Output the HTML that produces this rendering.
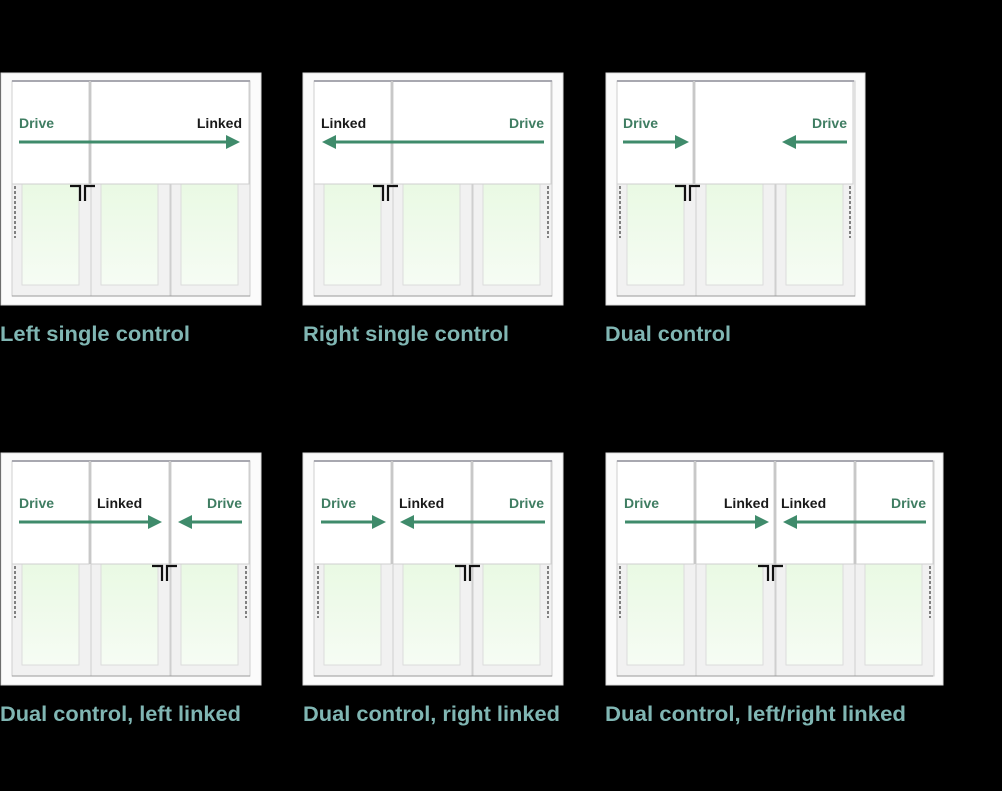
<!DOCTYPE html>
<html><head><meta charset="utf-8"><style>
html,body{margin:0;padding:0;background:#000;}
svg{display:block;}
.t{font-family:"Liberation Sans",sans-serif;font-weight:bold;font-size:14px;}
.g{fill:#3f7d62;}
.k{fill:#1a1a1a;}
.lab{font-family:"Liberation Sans",sans-serif;font-weight:bold;font-size:21px;fill:#80b6b3;}
</style></head><body>
<svg width="1002" height="791" viewBox="0 0 1002 791" xmlns="http://www.w3.org/2000/svg">
<defs>
<linearGradient id="gl" x1="0" y1="0" x2="0" y2="1"><stop offset="0" stop-color="#e9f9e3"/><stop offset="1" stop-color="#f6fcf4"/></linearGradient>
<g id="door">
<rect x="0" y="0" width="79" height="215" fill="#f1f1f1" stroke="#cfcfcf" stroke-width="1"/>
<rect x="10" y="100" width="57" height="104" fill="url(#gl)" stroke="#dcdcdc" stroke-width="1"/>
</g>
<g id="handles">
<path d="M0 2 H10 V17" fill="none" stroke="#111" stroke-width="2.2"/>
<path d="M25 2 H15 V17" fill="none" stroke="#111" stroke-width="2.2"/>
</g>
<line id="cord" x1="0" y1="0" x2="0" y2="52" stroke="#444" stroke-width="1.3" stroke-dasharray="3,2"/>
</defs>

<g>
<rect x="1" y="73" width="260" height="232" fill="#fbfbfb" stroke="#ddd"/>
<use href="#door" x="12" y="81"/><use href="#door" x="91" y="81"/><use href="#door" x="171" y="81"/>
<line x1="12" y1="296" x2="250" y2="296" stroke="#9a9a9a"/>
<rect x="12" y="81" width="77" height="103" fill="#fff" stroke="#cfcfcf"/>
<rect x="91" y="81" width="158" height="103" fill="#fff" stroke="#cfcfcf"/>
<line x1="12" y1="81" x2="250" y2="81" stroke="#a8a8b0" stroke-width="2"/>
<line x1="90" y1="81" x2="90" y2="184" stroke="#c8c8c8" stroke-width="2"/>
<use href="#handles" x="70" y="184"/>
<use href="#cord" x="15" y="186"/>
<text class="t g" x="19" y="128">Drive</text>
<text class="t k" x="242" y="128" text-anchor="end">Linked</text>
<line x1="19" y1="142" x2="228" y2="142" stroke="#3f8b6b" stroke-width="3"/>
<path d="M226 135 L240 142 L226 149 Z" fill="#3f8b6b"/>
<text class="lab" x="0" y="341" textLength="190" lengthAdjust="spacingAndGlyphs">Left single control</text>

<rect x="303" y="73" width="260" height="232" fill="#fbfbfb" stroke="#ddd"/>
<use href="#door" x="314" y="81"/><use href="#door" x="393" y="81"/><use href="#door" x="473" y="81"/>
<line x1="314" y1="296" x2="552" y2="296" stroke="#9a9a9a"/>
<rect x="314" y="81" width="77" height="103" fill="#fff" stroke="#cfcfcf"/>
<rect x="393" y="81" width="158" height="103" fill="#fff" stroke="#cfcfcf"/>
<line x1="314" y1="81" x2="552" y2="81" stroke="#a8a8b0" stroke-width="2"/>
<line x1="392" y1="81" x2="392" y2="184" stroke="#c8c8c8" stroke-width="2"/>
<use href="#handles" x="373" y="184"/>
<use href="#cord" x="548" y="186"/>
<text class="t k" x="321" y="128">Linked</text>
<text class="t g" x="544" y="128" text-anchor="end">Drive</text>
<line x1="334" y1="142" x2="544" y2="142" stroke="#3f8b6b" stroke-width="3"/>
<path d="M336 135 L322 142 L336 149 Z" fill="#3f8b6b"/>
<text class="lab" x="303" y="341" textLength="206" lengthAdjust="spacingAndGlyphs">Right single control</text>

<rect x="606" y="73" width="259" height="232" fill="#fbfbfb" stroke="#ddd"/>
<use href="#door" x="617" y="81"/><use href="#door" x="696" y="81"/><use href="#door" x="776" y="81"/>
<line x1="617" y1="296" x2="855" y2="296" stroke="#9a9a9a"/>
<rect x="617" y="81" width="76" height="103" fill="#fff" stroke="#cfcfcf"/>
<rect x="695" y="81" width="158" height="103" fill="#fff" stroke="#cfcfcf"/>
<line x1="617" y1="81" x2="854" y2="81" stroke="#a8a8b0" stroke-width="2"/>
<line x1="694" y1="81" x2="694" y2="184" stroke="#c8c8c8" stroke-width="2"/>
<use href="#handles" x="675" y="184"/>
<use href="#cord" x="620" y="186"/><use href="#cord" x="850" y="186"/>
<text class="t g" x="623" y="128">Drive</text>
<text class="t g" x="847" y="128" text-anchor="end">Drive</text>
<line x1="623" y1="142" x2="677" y2="142" stroke="#3f8b6b" stroke-width="3"/>
<path d="M675 135 L689 142 L675 149 Z" fill="#3f8b6b"/>
<line x1="794" y1="142" x2="847" y2="142" stroke="#3f8b6b" stroke-width="3"/>
<path d="M796 135 L782 142 L796 149 Z" fill="#3f8b6b"/>
<text class="lab" x="605" y="341" textLength="126" lengthAdjust="spacingAndGlyphs">Dual control</text>
</g>

<g>
<rect x="1" y="453" width="260" height="232" fill="#fbfbfb" stroke="#ddd"/>
<use href="#door" x="12" y="461"/><use href="#door" x="91" y="461"/><use href="#door" x="171" y="461"/>
<line x1="12" y1="676" x2="250" y2="676" stroke="#9a9a9a"/>
<rect x="12" y="461" width="77" height="103" fill="#fff" stroke="#cfcfcf"/>
<rect x="91" y="461" width="78" height="103" fill="#fff" stroke="#cfcfcf"/>
<rect x="171" y="461" width="78" height="103" fill="#fff" stroke="#cfcfcf"/>
<line x1="12" y1="461" x2="250" y2="461" stroke="#a8a8b0" stroke-width="2"/>
<line x1="90" y1="461" x2="90" y2="564" stroke="#c8c8c8" stroke-width="2"/>
<line x1="170" y1="461" x2="170" y2="564" stroke="#c8c8c8" stroke-width="2"/>
<use href="#handles" x="152" y="564"/>
<use href="#cord" x="15" y="566"/><use href="#cord" x="246" y="566"/>
<text class="t g" x="19" y="508">Drive</text>
<text class="t k" x="97" y="508">Linked</text>
<text class="t g" x="242" y="508" text-anchor="end">Drive</text>
<line x1="19" y1="522" x2="150" y2="522" stroke="#3f8b6b" stroke-width="3"/>
<path d="M148 515 L162 522 L148 529 Z" fill="#3f8b6b"/>
<line x1="190" y1="522" x2="242" y2="522" stroke="#3f8b6b" stroke-width="3"/>
<path d="M192 515 L178 522 L192 529 Z" fill="#3f8b6b"/>
<text class="lab" x="0" y="721" textLength="241" lengthAdjust="spacingAndGlyphs">Dual control, left linked</text>

<rect x="303" y="453" width="260" height="232" fill="#fbfbfb" stroke="#ddd"/>
<use href="#door" x="314" y="461"/><use href="#door" x="393" y="461"/><use href="#door" x="473" y="461"/>
<line x1="314" y1="676" x2="552" y2="676" stroke="#9a9a9a"/>
<rect x="314" y="461" width="77" height="103" fill="#fff" stroke="#cfcfcf"/>
<rect x="393" y="461" width="78" height="103" fill="#fff" stroke="#cfcfcf"/>
<rect x="473" y="461" width="78" height="103" fill="#fff" stroke="#cfcfcf"/>
<line x1="314" y1="461" x2="552" y2="461" stroke="#a8a8b0" stroke-width="2"/>
<line x1="392" y1="461" x2="392" y2="564" stroke="#c8c8c8" stroke-width="2"/>
<line x1="472" y1="461" x2="472" y2="564" stroke="#c8c8c8" stroke-width="2"/>
<use href="#handles" x="455" y="564"/>
<use href="#cord" x="318" y="566"/><use href="#cord" x="548" y="566"/>
<text class="t g" x="321" y="508">Drive</text>
<text class="t k" x="399" y="508">Linked</text>
<text class="t g" x="544" y="508" text-anchor="end">Drive</text>
<line x1="321" y1="522" x2="374" y2="522" stroke="#3f8b6b" stroke-width="3"/>
<path d="M372 515 L386 522 L372 529 Z" fill="#3f8b6b"/>
<line x1="412" y1="522" x2="545" y2="522" stroke="#3f8b6b" stroke-width="3"/>
<path d="M414 515 L400 522 L414 529 Z" fill="#3f8b6b"/>
<text class="lab" x="303" y="721" textLength="257" lengthAdjust="spacingAndGlyphs">Dual control, right linked</text>

<rect x="606" y="453" width="337" height="232" fill="#fbfbfb" stroke="#ddd"/>
<use href="#door" x="617" y="461"/><use href="#door" x="696" y="461"/><use href="#door" x="776" y="461"/><use href="#door" x="855" y="461"/>
<line x1="617" y1="676" x2="933" y2="676" stroke="#9a9a9a"/>
<rect x="617" y="461" width="77" height="103" fill="#fff" stroke="#cfcfcf"/>
<rect x="696" y="461" width="78" height="103" fill="#fff" stroke="#cfcfcf"/>
<rect x="776" y="461" width="78" height="103" fill="#fff" stroke="#cfcfcf"/>
<rect x="856" y="461" width="77" height="103" fill="#fff" stroke="#cfcfcf"/>
<line x1="617" y1="461" x2="933" y2="461" stroke="#a8a8b0" stroke-width="2"/>
<line x1="695" y1="461" x2="695" y2="564" stroke="#c8c8c8" stroke-width="2"/>
<line x1="775" y1="461" x2="775" y2="564" stroke="#c8c8c8" stroke-width="2"/>
<line x1="855" y1="461" x2="855" y2="564" stroke="#c8c8c8" stroke-width="2"/>
<use href="#handles" x="758" y="564"/>
<use href="#cord" x="620" y="566"/><use href="#cord" x="930" y="566"/>
<text class="t g" x="624" y="508">Drive</text>
<text class="t k" x="769" y="508" text-anchor="end">Linked</text>
<text class="t k" x="781" y="508">Linked</text>
<text class="t g" x="926" y="508" text-anchor="end">Drive</text>
<line x1="625" y1="522" x2="757" y2="522" stroke="#3f8b6b" stroke-width="3"/>
<path d="M755 515 L769 522 L755 529 Z" fill="#3f8b6b"/>
<line x1="795" y1="522" x2="926" y2="522" stroke="#3f8b6b" stroke-width="3"/>
<path d="M797 515 L783 522 L797 529 Z" fill="#3f8b6b"/>
<text class="lab" x="605" y="721" textLength="301" lengthAdjust="spacingAndGlyphs">Dual control, left/right linked</text>
</g>
</svg>
</body></html>
